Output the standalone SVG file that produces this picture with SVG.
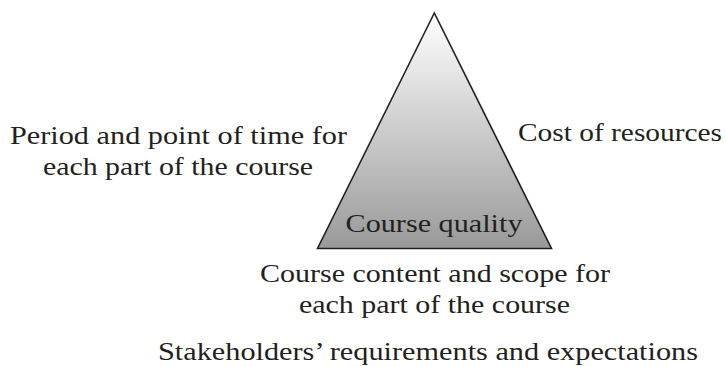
<svg xmlns="http://www.w3.org/2000/svg" width="726" height="367" viewBox="0 0 726 367">
  <style>
    .t { font-family: "Liberation Serif", "Times New Roman", serif; font-size: 26px; fill: #231f20; text-anchor: middle; }
    .tri { stroke: #231f20; stroke-width: 1.6; stroke-linejoin: miter; fill: url(#g); }
  </style>
  <defs>
    <linearGradient id="g" x1="0" y1="13" x2="0" y2="249" gradientUnits="userSpaceOnUse">
      <stop offset="0" stop-color="#ffffff"/>
      <stop offset="1" stop-color="#999999"/>
    </linearGradient>
  </defs>
  <rect width="726" height="367" fill="#ffffff"/>
  <g id="triangle">
    <polygon class="tri" points="434.3,13 317.5,248.5 551.5,248.5"/>
    <text class="t" x="434" y="232" textLength="177" lengthAdjust="spacingAndGlyphs">Course quality</text>
  </g>
  <g id="time">
    <text class="t" x="178.5" y="144" textLength="337" lengthAdjust="spacingAndGlyphs">Period and point of time for</text>
    <text class="t" x="178" y="175" textLength="270" lengthAdjust="spacingAndGlyphs">each part of the course</text>
  </g>
  <g id="cost">
    <text class="t" x="620" y="141" textLength="204" lengthAdjust="spacingAndGlyphs">Cost of resources</text>
  </g>
  <g id="scope">
    <text class="t" x="435" y="282" textLength="350" lengthAdjust="spacingAndGlyphs">Course content and scope for</text>
    <text class="t" x="434.5" y="313" textLength="271" lengthAdjust="spacingAndGlyphs">each part of the course</text>
  </g>
  <g id="stakeholders">
    <text class="t" x="428" y="360" style="font-size:25px" textLength="540" lengthAdjust="spacingAndGlyphs">Stakeholders’ requirements and expectations</text>
  </g>
  <g id="connectors"></g>
</svg>
